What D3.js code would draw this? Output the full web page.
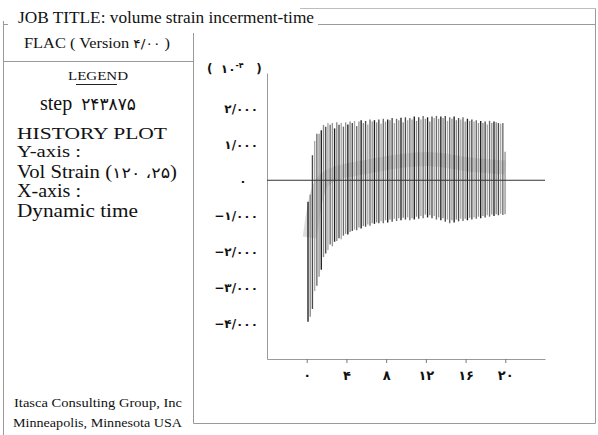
<!DOCTYPE html>
<html>
<head>
<meta charset="utf-8">
<script src="https://cdn.jsdelivr.net/npm/d3@7/dist/d3.min.js"></script>
<style>
  html, body { margin: 0; padding: 0; background: #fff; }
  svg { display: block; }
  .serif { font-family: "Liberation Serif", "DejaVu Serif", serif; fill: #111; }
  .num { font-family: "DejaVu Sans", "Noto Sans", sans-serif; fill: #111; }
</style>
</head>
<body>
<svg id="chart" width="598" height="435"></svg>
<script>
// ---- history record: volume strain at zone (120, 25), units of 1e-4 ----
// one peak and one trough per oscillation, in time order
const peaks = [
  -0.6, -0.4, 0.7, 1.1, 1.3, 1.3, 1.4, 1.55, 1.5, 1.6,
  1.55, 1.6, 1.45, 1.62, 1.55, 1.6, 1.5, 1.62, 1.56, 1.64,
  1.6, 1.66, 1.52, 1.64, 1.68, 1.6, 1.66, 1.56, 1.7, 1.64,
  1.68, 1.62, 1.7, 1.58, 1.72, 1.64, 1.7, 1.68, 1.74, 1.6,
  1.72, 1.68, 1.75, 1.62, 1.76, 1.68, 1.74, 1.7, 1.78, 1.66,
  1.76, 1.7, 1.8, 1.72, 1.76, 1.64, 1.78, 1.74, 1.8, 1.72,
  1.78, 1.74, 1.8, 1.66, 1.76, 1.72, 1.78, 1.68, 1.74, 1.7,
  1.76, 1.64, 1.72, 1.66, 1.7, 1.64, 1.68, 1.6, 1.66, 1.6,
  1.64, 1.56, 1.66, 1.6, 1.64, 1.62, 1.6, 1.58, 1.6, 0.8
];
const troughs = [
  -3.96, -3.82, -3.6, -3.1, -2.95, -2.7, -2.5, -2.15, -2.05, -1.95,
  -1.8, -1.85, -1.72, -1.7, -1.62, -1.65, -1.55, -1.5, -1.52, -1.45,
  -1.42, -1.38, -1.4, -1.32, -1.35, -1.28, -1.3, -1.24, -1.27, -1.2,
  -1.22, -1.18, -1.2, -1.15, -1.2, -1.12, -1.18, -1.1, -1.16, -1.08,
  -1.14, -1.06, -1.12, -1.05, -1.1, -1.04, -1.12, -1.06, -1.1, -1.02,
  -1.08, -1.0, -1.06, -0.96, -1.04, -0.98, -1.06, -1.0, -1.1, -1.04,
  -1.12, -1.06, -1.16, -1.1, -1.2, -1.12, -1.18, -1.1, -1.15, -1.08,
  -1.14, -1.08, -1.12, -1.05, -1.1, -1.04, -1.08, -1.02, -1.06, -1.0,
  -1.04, -0.98, -1.02, -0.96, -1.0, -0.95, -0.98, -0.94, -0.97, -0.95
];
const startTime = 0.13;   // first recorded oscillation
const period = 0.223;     // time between oscillations

// running mean of the record
const meanTimes  = [0.3, 1, 2, 3, 4, 5, 6, 7, 8, 9, 10, 11, 12, 13, 14, 15, 16, 17, 18, 19, 20];
const meanValues = [-1.6, -0.2, 0.1, 0.2, 0.28, 0.32, 0.38, 0.42, 0.48, 0.52, 0.56, 0.58, 0.6, 0.58, 0.55, 0.5, 0.45, 0.42, 0.4, 0.38, 0.35];

// axes
const xTickValues = [0, 4, 8, 12, 16, 20];
const xTickLabels = ["۰", "۴", "۸", "۱۲", "۱۶", "۲۰"];
const yTickValues = [2, 1, 0, -1, -2, -3, -4];
const yTickLabels = ["۲/۰۰۰", "۱/۰۰۰", "۰", "−۱/۰۰۰", "−۲/۰۰۰", "−۳/۰۰۰", "−۴/۰۰۰"];

const svg = d3.select("#chart");
const frame = "#9a9a9a";

// ---- page frame ----
const rule = (x1, y1, x2, y2, c) => svg.append("line")
  .attr("x1", x1).attr("y1", y1).attr("x2", x2).attr("y2", y2)
  .attr("stroke", c || frame).attr("stroke-width", 1);
rule(300, 8.5, 595.5, 8.5, "#bdbdbd");
rule(595.5, 8.5, 595.5, 423.5);
rule(3.5, 21, 3.5, 435);
rule(3.5, 24.5, 595.5, 24.5);
rule(193.5, 33, 193.5, 423.5);
rule(3.5, 61.5, 193.5, 61.5);
rule(193.5, 423.5, 595.5, 423.5);

// serif text; Persian digit runs are set in a font that carries them
const persian = /([\u06F0-\u06F9\u060C\/]+)/;
const lab = (txt, xPos, yPos, size, len, digitSpacing, digitShift) => {
  const t = svg.append("text").attr("class", "serif")
    .attr("x", xPos).attr("y", yPos).attr("font-size", size);
  if (len) t.attr("textLength", len).attr("lengthAdjust", "spacingAndGlyphs");
  txt.split(persian).filter(s => s.length).forEach(s => {
    const sp = t.append("tspan").text(s);
    if (persian.test(s)) {
      sp.attr("font-family", "DejaVu Sans").attr("font-size", size * 0.85);
      if (digitSpacing) sp.attr("letter-spacing", digitSpacing);
      if (digitShift) sp.attr("dx", digitShift);
    }
  });
  return t;
};

// title on a white strip so the rule runs out behind it
const title = lab("JOB TITLE: volume strain incerment-time", 18, 23, 16, 296);
const tb = title.node().getBBox();
svg.insert("rect", "text").attr("x", 8).attr("y", 14).attr("width", tb.x + tb.width - 8 + 4)
  .attr("height", 14).attr("fill", "#fff");

// ---- legend panel ----
lab("FLAC ( Version ۴/۰۰ )", 24, 48, 15, 146);
lab("LEGEND", 68, 80, 13, 60);
rule(76, 84.5, 117, 84.5, "#222");
lab("step ۲۴۳۸۷۵", 40, 110, 20, null, 5, 4);
lab("HISTORY PLOT", 17, 139, 17, 150);
lab("Y-axis :", 17, 157, 17, 64);
lab("Vol Strain (۱۲۰ ،۲۵)", 17, 178, 18, 160);
lab("X-axis :", 17, 197, 18, 64);
lab("Dynamic time", 17, 217, 18, 121);
lab("Itasca Consulting Group, Inc", 14, 407, 13, 168);
lab("Minneapolis, Minnesota USA", 13, 427, 13, 169);

// ---- plot ----
const x = d3.scaleLinear().domain([-4, 24]).range([267, 545]);
const y = d3.scaleLinear().domain([-5, 3]).range([359, 73]);

// axes
const xAxis = svg.append("g").attr("transform", `translate(0,${y(-5)})`)
  .call(d3.axisBottom(x).tickValues(xTickValues).tickSize(4).tickSizeOuter(0).tickPadding(8)
    .tickFormat((d, i) => xTickLabels[i]));
xAxis.select(".domain").attr("stroke", frame);
xAxis.selectAll(".tick line").attr("stroke", "#777");
xAxis.selectAll(".tick text").attr("class", "num").attr("font-size", 13).attr("font-weight", "bold");

const yAxis = svg.append("g").attr("transform", `translate(${x(-4)},0)`)
  .call(d3.axisLeft(y).tickValues(yTickValues).tickSize(0).tickSizeOuter(0).tickPadding(9)
    .tickFormat((d, i) => yTickLabels[i]));
yAxis.select(".domain").attr("stroke", frame);
yAxis.selectAll(".tick text").attr("class", "num").attr("font-size", 12).attr("font-weight", "bold")
  .attr("letter-spacing", 1.4);
yAxis.selectAll(".tick").filter(d => d === 0).select("text")
  .attr("text-anchor", "middle").attr("x", -24).attr("letter-spacing", 0);

// unit label
const unit = svg.append("text").attr("class", "num").attr("font-size", 12).attr("font-weight", "bold")
  .attr("x", 207).attr("y", 73).attr("xml:space", "preserve");
unit.append("tspan").text("(  ۱۰");
unit.append("tspan").attr("font-size", 8).attr("dy", -5).text("-۴");
unit.append("tspan").attr("dy", 5).text("   )");

// running mean as a soft grey band
svg.append("path")
  .datum(meanTimes.map((t, i) => [t, meanValues[i]]))
  .attr("fill", "none").attr("stroke", "#8c8c8c").attr("stroke-opacity", 0.3)
  .attr("stroke-width", 14).attr("stroke-linejoin", "round")
  .attr("d", d3.line().x(d => x(d[0])).y(d => y(d[1])).curve(d3.curveBasis));

// oscillations: each one spans trough to peak
const shades = ["#1c1c1c", "#8a8a8a", "#4a4a4a", "#a8a8a8", "#6a6a6a", "#959595"];
const cycles = peaks.map((p, i) => ({ t: startTime + i * period, hi: p, lo: troughs[i] }));
svg.append("g").selectAll("line").data(cycles).join("line")
  .attr("x1", d => x(d.t)).attr("x2", d => x(d.t))
  .attr("y1", d => y(d.lo)).attr("y2", d => y(d.hi))
  .attr("stroke", (d, i) => shades[i % shades.length])
  .attr("stroke-width", 1.35);

// zero line
svg.append("line")
  .attr("x1", x(-4)).attr("x2", x(24)).attr("y1", y(0)).attr("y2", y(0))
  .attr("stroke", "#333").attr("stroke-width", 1);
</script>
</body>
</html>
